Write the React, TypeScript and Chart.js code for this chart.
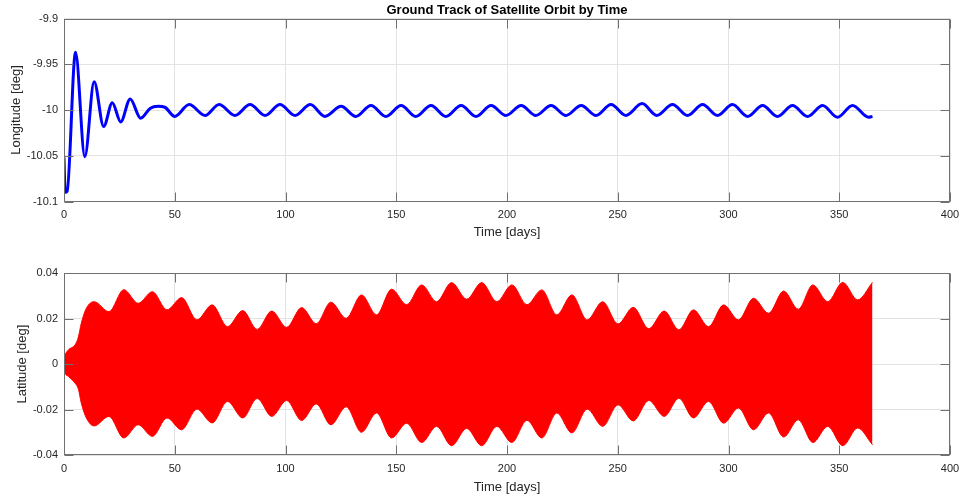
import React, { useEffect, useRef } from 'react';
import { Chart, registerables } from 'chart.js';

Chart.register(...registerables);

// ---------- Data ----------
const chartTitle = 'Ground Track of Satellite Orbit by Time';
const timeTicks = [0, 50, 100, 150, 200, 250, 300, 350, 400];
const longitudeTicks = [-10.1, -10.05, -10, -9.95, -9.9];
const latitudeTicks = [-0.04, -0.02, 0, 0.02, 0.04];

const longitudeDays = [
  0, 0.5, 1.4, 5.2, 9.4, 13.6, 17.9, 21.8, 25.6, 29.9, 34.6, 39.0, 42.5, 45.5,
  50.0, 56.5, 63.7, 70.0, 77.2, 84.0, 90.8, 97.5, 104.3, 111.2, 117.8, 125.1,
  131.7, 138.6, 145.3, 152.2, 158.8, 165.7, 172.4, 179.3, 186.0, 192.8, 199.5,
  206.4, 213.0, 219.9, 226.6, 233.5, 240.2, 247.0, 253.7, 261.0, 267.6, 274.7,
  281.5, 288.3, 295.0, 301.8, 308.6, 315.4, 322.1, 328.9, 335.7, 342.5, 349.2,
  356.0, 363.2, 365.0,
];
const longitudeValues = [
  -10.052, -10.09, -10.089, -9.937, -10.051, -9.969, -10.018, -9.992, -10.013,
  -9.988, -10.009, -9.998, -9.996, -9.997, -10.007, -9.994, -10.006, -9.994,
  -10.006, -9.994, -10.006, -9.994, -10.006, -9.994, -10.007, -9.996, -10.007,
  -9.995, -10.007, -9.995, -10.007, -9.995, -10.007, -9.995, -10.007, -9.995,
  -10.006, -9.995, -10.006, -9.995, -10.006, -9.995, -10.006, -9.994, -10.006,
  -9.993, -10.006, -9.994, -10.006, -9.994, -10.006, -9.994, -10.007, -9.995,
  -10.007, -9.995, -10.007, -9.995, -10.008, -9.995, -10.008, -10.007,
];

const latitudeDays = [
  0, 0.5, 2, 5, 6.5, 7.8, 10.1, 13.6, 20.3, 27.0, 33.5, 39.9, 46.5, 53.1, 60.0,
  66.9, 73.8, 80.7, 87.2, 93.8, 100.5, 107.3, 113.9, 120.5, 127.4, 134.3, 141.1,
  147.9, 154.7, 161.5, 168.2, 175.0, 181.8, 188.6, 195.4, 202.2, 209.0, 215.7,
  222.5, 229.3, 236.2, 243.2, 250.1, 257.0, 264.0, 271.0, 277.6, 284.2, 291.0,
  297.8, 304.5, 311.3, 318.1, 324.9, 331.5, 338.1, 344.8, 351.6, 358.3, 365.0,
];
const latitudeUpper = [
  0.002, 0.004, 0.0063, 0.0085, 0.012, 0.018, 0.0246, 0.0275, 0.0231, 0.0328,
  0.0268, 0.0319, 0.0239, 0.0293, 0.0195, 0.0261, 0.0165, 0.0236, 0.0153,
  0.0234, 0.0162, 0.0249, 0.0178, 0.0273, 0.0202, 0.0305, 0.0217, 0.033,
  0.0262, 0.0349, 0.0275, 0.0359, 0.0286, 0.0359, 0.0275, 0.0349, 0.0262,
  0.0327, 0.0217, 0.0305, 0.0195, 0.0275, 0.0177, 0.025, 0.0156, 0.0234,
  0.0151, 0.0239, 0.0165, 0.0261, 0.0195, 0.029, 0.0224, 0.0322, 0.0242,
  0.0349, 0.0275, 0.036, 0.0283, 0.036,
];
const latitudeLower = [
  -0.002, -0.004, -0.0054, -0.0084, -0.011, -0.0171, -0.0237, -0.0272, -0.023,
  -0.0325, -0.0267, -0.0318, -0.0237, -0.0289, -0.0198, -0.0259, -0.0164,
  -0.0237, -0.0151, -0.023, -0.016, -0.0248, -0.0175, -0.0267, -0.0188, -0.03,
  -0.0215, -0.0325, -0.026, -0.0345, -0.0274, -0.0359, -0.0283, -0.0359,
  -0.0274, -0.0345, -0.0247, -0.0325, -0.0215, -0.0303, -0.0198, -0.0274,
  -0.0179, -0.025, -0.016, -0.023, -0.015, -0.0237, -0.0164, -0.026, -0.0193,
  -0.0289, -0.0215, -0.0321, -0.0245, -0.0345, -0.0274, -0.0359, -0.0281,
  -0.0355,
];

// ---------- Styling ----------
const FONT = "'Liberation Sans', Arial, Helvetica, sans-serif";
const TEXT = '#262626';
const GRID = '#e3e3e3';
const FRAME = '#707070';

const fmt = (v: number) => String(parseFloat(Number(v).toFixed(4)));

const framePlugin = {
  id: 'matlabFrame',
  afterDraw(chart: any) {
    const { ctx, chartArea } = chart;
    const xs = chart.scales.x;
    const ys = chart.scales.y;
    const l = Math.round(chartArea.left) + 0.5;
    const r = Math.round(chartArea.right) - 0.5;
    const t = Math.round(chartArea.top) + 0.5;
    const b = Math.round(chartArea.bottom) - 0.5;
    const L = 9;
    ctx.save();
    ctx.strokeStyle = FRAME;
    ctx.lineWidth = 1;
    ctx.strokeRect(l, t, r - l, b - t);
    ctx.beginPath();
    xs.ticks.forEach((tk: any) => {
      const px = Math.round(xs.getPixelForValue(tk.value)) + 0.5;
      ctx.moveTo(px, b);
      ctx.lineTo(px, b - L);
      ctx.moveTo(px, t);
      ctx.lineTo(px, t + L);
    });
    ys.ticks.forEach((tk: any) => {
      const py = Math.round(ys.getPixelForValue(tk.value)) + 0.5;
      ctx.moveTo(l, py);
      ctx.lineTo(l + L, py);
      ctx.moveTo(r, py);
      ctx.lineTo(r - L, py);
    });
    ctx.stroke();
    ctx.restore();
  },
};

function xScale(height: number, titlePadBottom: number) {
  return {
    type: 'linear',
    min: 0,
    max: 400,
    afterBuildTicks: (s: any) => {
      s.ticks = timeTicks.map((v) => ({ value: v }));
    },
    afterFit: (s: any) => {
      s.height = height;
      s.paddingLeft = 0;
      s.paddingRight = 0;
    },
    ticks: {
      color: TEXT,
      font: { family: FONT, size: 11 },
      padding: 7,
      maxRotation: 0,
      autoSkip: false,
      callback: (v: any) => fmt(v),
    },
    grid: { color: GRID, drawTicks: false, lineWidth: 1 },
    border: { display: false },
    title: {
      display: true,
      text: 'Time [days]',
      color: TEXT,
      font: { family: FONT, size: 13 },
      padding: { top: 0, bottom: titlePadBottom },
    },
  };
}

function yScale(min: number, max: number, ticks: number[], label: string, titlePadTop: number) {
  return {
    type: 'linear',
    min,
    max,
    afterBuildTicks: (s: any) => {
      s.ticks = ticks.map((v) => ({ value: v }));
    },
    afterFit: (s: any) => {
      s.width = 64;
      s.paddingTop = 0;
      s.paddingBottom = 0;
    },
    ticks: {
      color: TEXT,
      font: { family: FONT, size: 11 },
      padding: 6,
      autoSkip: false,
      callback: (v: any) => fmt(v),
    },
    grid: { color: GRID, drawTicks: false, lineWidth: 1 },
    border: { display: false },
    title: {
      display: true,
      text: label,
      color: TEXT,
      font: { family: FONT, size: 13 },
      padding: { top: titlePadTop, bottom: 0 },
    },
  };
}

export default function App() {
  const topRef = useRef<HTMLCanvasElement>(null);
  const botRef = useRef<HTMLCanvasElement>(null);

  useEffect(() => {
    const topChart = new Chart(topRef.current as HTMLCanvasElement, {
      type: 'line',
      data: {
        datasets: [
          {
            data: longitudeDays.map((d, i) => ({ x: d, y: longitudeValues[i] })),
            borderColor: '#0000ff',
            borderWidth: 3,
            pointRadius: 0,
            cubicInterpolationMode: 'monotone',
            fill: false,
          },
        ],
      },
      options: {
        animation: false,
        responsive: false,
        devicePixelRatio: 1,
        layout: { padding: { left: 0, right: 12, top: 0, bottom: 0 } },
        plugins: {
          legend: { display: false },
          tooltip: { enabled: false },
          title: {
            display: true,
            text: chartTitle,
            fullSize: false,
            color: '#000000',
            font: { family: FONT, size: 13, weight: 'bold' },
            padding: { top: 2.2, bottom: 0.7 },
          },
        },
        scales: {
          x: xScale(48.5, 10.2),
          y: yScale(-10.1, -9.9, longitudeTicks, 'Longitude [deg]', 8.2),
        },
      } as any,
      plugins: [framePlugin],
    });

    const botChart = new Chart(botRef.current as HTMLCanvasElement, {
      type: 'line',
      data: {
        datasets: [
          {
            data: latitudeDays.map((d, i) => ({ x: d, y: latitudeUpper[i] })),
            borderColor: '#ff0000',
            backgroundColor: '#ff0000',
            borderWidth: 1,
            pointRadius: 0,
            cubicInterpolationMode: 'monotone',
            fill: '+1',
          },
          {
            data: latitudeDays.map((d, i) => ({ x: d, y: latitudeLower[i] })),
            borderColor: '#ff0000',
            borderWidth: 1,
            pointRadius: 0,
            cubicInterpolationMode: 'monotone',
            fill: false,
          },
        ],
      },
      options: {
        animation: false,
        responsive: false,
        devicePixelRatio: 1,
        layout: { padding: { left: 0, right: 12, top: 23.3, bottom: 0 } },
        plugins: {
          legend: { display: false },
          tooltip: { enabled: false },
          title: { display: false },
        },
        scales: {
          x: xScale(46, 6.2),
          y: yScale(-0.04, 0.04, latitudeTicks, 'Latitude [deg]', 14.2),
        },
      } as any,
      plugins: [framePlugin],
    });

    return () => {
      topChart.destroy();
      botChart.destroy();
    };
  }, []);

  return (
    <div
      style={{
        position: 'fixed',
        left: 0,
        top: 0,
        width: 962,
        height: 501,
        background: '#ffffff',
      }}
    >
      <canvas
        ref={topRef}
        width={962}
        height={250}
        style={{ position: 'absolute', left: 0, top: 0, width: 962, height: 250 }}
      />
      <canvas
        ref={botRef}
        width={962}
        height={251}
        style={{ position: 'absolute', left: 0, top: 250, width: 962, height: 251 }}
      />
    </div>
  );
}
